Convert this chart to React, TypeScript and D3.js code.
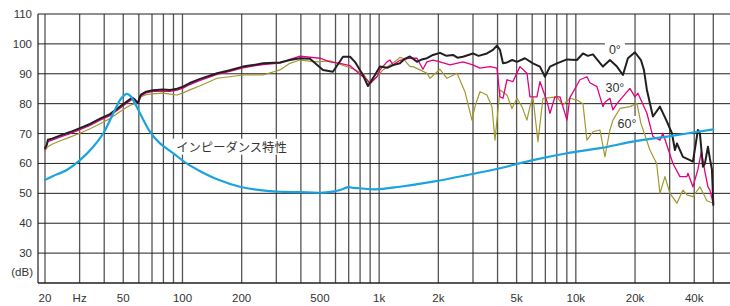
import React from "react";
import * as d3 from "d3";

// ---- Data (frequency in Hz, level in dB) ----
const DB_TICKS = [110, 100, 90, 80, 70, 60, 50, 40, 30];
const DB_UNIT = "(dB)";
const FREQ_LABELS: [number, string][] = [
  [20, "20"], [30, "Hz"], [50, "50"], [100, "100"], [200, "200"], [500, "500"],
  [1000, "1k"], [2000, "2k"], [5000, "5k"], [10000, "10k"], [20000, "20k"], [40000, "40k"],
];
const GRID_FREQS = [
  20, 30, 40, 50, 60, 70, 80, 90,
  100, 200, 300, 400, 500, 600, 700, 800, 900,
  1000, 2000, 3000, 4000, 5000, 6000, 7000, 8000, 9000,
  10000, 20000, 30000, 40000, 50000,
];

const resp0: [number, number][] = [
  [20, 65.2], [20.4, 66.2], [20.7, 67.9], [21.7, 68.3], [23.8, 69.3], [26.8, 70.5], [30.1, 71.8],
  [33.9, 73.2], [38.1, 75.0], [42.8, 76.5], [48.1, 79.0], [52.1, 80.7], [55.4, 82.0], [57, 81.5],
  [59.4, 80.2], [60.8, 82.4], [61.5, 83.0], [65.3, 84.0], [70.8, 84.5], [79.6, 84.7], [86.4, 84.6],
  [93.8, 85.0], [100.6, 85.7], [109, 86.9], [123, 88.3], [150, 90.2], [174, 91.2], [203, 92.4],
  [228, 92.9], [257, 93.5], [313, 93.8], [352, 94.6], [396, 95.2], [445, 95.0], [518, 91.3],
  [582, 90.7], [655, 95.7], [711, 95.7], [753, 94], [827, 89.6], [877, 85.9], [952, 89.6],
  [1010, 92.4], [1100, 92.0], [1176, 92.9], [1276, 93.5], [1350, 95.0], [1434, 95.8], [1557, 94],
  [1650, 94.8], [1750, 95.2], [1878, 96.3], [2038, 97.0], [2200, 96.0], [2374, 96.3], [2500, 95.4],
  [2668, 95.7], [2998, 96.8], [3200, 96.0], [3532, 96.8], [3790, 98], [3972, 99.4], [4114, 98],
  [4262, 93.5], [4466, 93.8], [4750, 94.6], [5020, 94], [5512, 95.2], [6052, 93.5], [6570, 92.4],
  [6966, 89], [7388, 92.4], [8018, 93.5], [9014, 94.8], [10130, 94.6], [10868, 96.8], [11500, 96.0],
  [12218, 96.5], [13734, 92.4], [14908, 94.6], [16182, 92.4], [17360, 89.6], [18404, 95.2],
  [19976, 97.2], [21428, 94.6], [22194, 91.3], [22986, 84.6], [24660, 75.7], [26768, 79],
  [29056, 74], [30808, 70.1], [31910, 64.5], [32668, 66.7], [35042, 62.2], [38032, 61.1],
  [39390, 60.6], [41766, 71.2], [42758, 70], [44288, 58.9], [45340, 60], [46960, 65.6],
  [48074, 61.5], [49210, 58], [50000, 46.1],
];

const resp30: [number, number][] = [
  [20, 64.6], [20.7, 67.3], [21.7, 67.8], [23.8, 68.8], [26.8, 70], [30.1, 71.3], [33.9, 72.7],
  [38.1, 74.5], [42.8, 76.0], [48.1, 78.5], [52.1, 80.2], [55.4, 81.4], [57, 81.2], [59.4, 80.0],
  [61.5, 82.6], [65.3, 83.6], [70.8, 84.1], [79.6, 84.2], [86.4, 84.1], [93.8, 84.5], [100.6, 85.2],
  [109, 86.4], [123, 87.8], [150, 89.8], [174, 90.8], [203, 92], [228, 92.6], [257, 93.1],
  [313, 93.6], [352, 94.8], [396, 95.9], [500, 95.2], [562, 94], [632, 93.5], [711, 92.7],
  [827, 89], [867, 88], [898, 86.8], [975, 89], [1010, 91.3], [1096, 94], [1135, 94.6],
  [1176, 93], [1276, 94.5], [1434, 95.2], [1557, 95.2], [1670, 91.5], [1750, 94], [1878, 94.6],
  [2038, 94], [2292, 93], [2668, 94], [2998, 93], [3254, 91.9], [3660, 92.4], [3972, 91.9],
  [4114, 82.3], [4262, 81.8], [4466, 88], [4790, 87.4], [5198, 92.4], [5642, 90.2], [5844, 82.3],
  [6342, 82.3], [6570, 87.4], [7132, 80.7], [7388, 76.8], [7832, 82.3], [8304, 82.3], [9014, 74.5],
  [9334, 82], [10494, 88], [11388, 89], [11794, 87], [12802, 85.7], [13734, 79], [14060, 80.5],
  [14908, 81.8], [15440, 77.9], [16182, 80], [16760, 81.2], [18838, 85.1], [19976, 82.3],
  [20688, 83.5], [22986, 76.8], [24660, 69], [26768, 67.8], [27724, 70.1], [31172, 60],
  [33836, 55.6], [36718, 55.6], [37150, 56.7], [39390, 52.2], [41766, 58], [43500, 64],
  [45340, 57.2], [46960, 52.2], [48074, 51.1], [50000, 46.5],
];

const resp60: [number, number][] = [
  [20, 64.3], [20.7, 65.6], [21.7, 66.4], [23.8, 67.5], [26.8, 68.8], [30.1, 70.1], [33.9, 71.6],
  [38.1, 73.3], [42.8, 75.0], [48.1, 77.3], [52.1, 78.8], [55.4, 79.7], [59.4, 80.3], [61.5, 82.3],
  [65.3, 83.0], [70.8, 83.3], [79.6, 83.5], [86.4, 83.2], [93.8, 82.9], [100.6, 83.6], [109, 84.6],
  [123, 86], [150, 88.5], [174, 89], [203, 89.6], [257, 89.6], [313, 91.3], [352, 93.5],
  [396, 94.6], [481, 94], [562, 94.3], [711, 92], [827, 90.2], [898, 86.5], [1010, 90.2],
  [1046, 91.3], [1232, 94.6], [1276, 95.5], [1321, 95.2], [1434, 92.4], [1486, 92.4], [1613, 91.3],
  [1750, 90.2], [1813, 88.5], [2038, 91.5], [2212, 88.5], [2292, 89], [2488, 90.2], [2730, 84],
  [2964, 74.5], [3070, 79], [3254, 84], [3532, 82.9], [3746, 79], [3880, 67.8], [4114, 84.6],
  [4466, 82.9], [4734, 78.4], [5020, 81.8], [5322, 79], [5642, 74.5], [5844, 79], [6052, 82.3],
  [6418, 67.3], [6806, 81.8], [7388, 82], [8018, 82.3], [8602, 79.5], [9334, 81.8], [10130, 81.2],
  [10868, 80], [11388, 67.8], [12218, 70.6], [13260, 71.2], [14060, 62.2], [14908, 71.2],
  [15440, 74.5], [16760, 78.4], [18838, 79], [20452, 80.1], [21428, 73.4], [23808, 64.5],
  [25754, 60], [26768, 50], [28384, 55.6], [30094, 50], [32668, 46.7], [35042, 51.1],
  [36718, 49.5], [39390, 48.9], [42758, 52.2], [46412, 47.5], [50000, 46.7],
];

const impedance: [number, number][] = [
  [20, 54.5], [22, 55.8], [25.8, 57.8], [30.1, 61.1], [35.2, 65.6], [39.6, 70.1], [44.5, 76.8],
  [48.1, 81.2], [50.5, 82.8], [52.1, 83.3], [54, 82.8], [56.2, 81.2], [60.8, 76.8], [68.4, 70.6],
  [76.9, 66.7], [89.8, 63.4], [105, 60], [123, 57.4], [150, 54.7], [196, 52.2], [269, 50.8],
  [324, 50.5], [396, 50.4], [500, 50.2], [582, 50.6], [640, 51.2], [694, 52.1], [740, 51.8],
  [799, 51.7], [952, 51.3], [1276, 52.2], [1878, 53.9], [2796, 56.1], [4114, 58.4], [6052, 61.1],
  [9014, 63.4], [13260, 65.1], [19512, 67.3], [29056, 69], [50000, 71.4],
];

const ANGLE_LABELS: [string, number, number][] = [
  ["0°", 15800, 97.9],
  ["30°", 15800, 85.2],
  ["60°", 18200, 73.2],
];
const IMPEDANCE_LABEL: [string, number, number] = ["インピーダンス特性", 93, 65.6];

const W = 730;
const H = 306;
const FONT = "'Liberation Sans', Arial, Helvetica, sans-serif";

export default function App() {
  const x = d3.scaleLog().domain([20, 50000]).range([45, 713.3]);
  const y = d3.scaleLinear().domain([20, 110]).range([283, 14]);
  const left = 38;
  const right = W;

  const line = d3
    .line<[number, number]>()
    .x((d) => x(d[0]))
    .y((d) => y(d[1]));
  const smooth = d3
    .line<[number, number]>()
    .x((d) => x(d[0]))
    .y((d) => y(d[1]))
    .curve(d3.curveCatmullRom.alpha(0.5));

  const series = [
    { data: resp60, color: "#a09a2e", w: 1.2, gen: line },
    { data: resp30, color: "#e4007f", w: 1.3, gen: line },
    { data: resp0, color: "#231f20", w: 2.0, gen: line },
    { data: impedance, color: "#1aa3df", w: 2.2, gen: smooth },
  ];

  return (
    <svg
      width={W}
      height={H}
      style={{ position: "absolute", left: 0, top: 0, background: "#fff" }}
      fontFamily={FONT}
    >
      <rect x={0} y={0} width={W} height={H} fill="#fff" />
      {/* vertical grid */}
      {GRID_FREQS.map((f) => (
        <line key={"v" + f} x1={x(f)} x2={x(f)} y1={y(110)} y2={y(20)} stroke="#555" strokeWidth={1.3} />
      ))}
      {/* horizontal grid */}
      {DB_TICKS.map((v) => (
        <line key={"h" + v} x1={left} x2={right} y1={y(v)} y2={y(v)} stroke="#231f20" strokeWidth={1} />
      ))}
      <line x1={left} x2={right} y1={y(20)} y2={y(20)} stroke="#231f20" strokeWidth={1.5} />
      <line x1={left} x2={left} y1={y(110)} y2={y(20)} stroke="#231f20" strokeWidth={1.2} />

      {/* y labels */}
      {DB_TICKS.map((v) => (
        <text key={"yl" + v} x={32} y={y(v)} textAnchor="end" dominantBaseline="central" fontSize={11.5} fill="#333">
          {v}
        </text>
      ))}
      <text x={33} y={272} textAnchor="end" dominantBaseline="central" fontSize={11.5} fill="#333">
        {DB_UNIT}
      </text>
      {/* x labels */}
      {FREQ_LABELS.map(([f, s]) => (
        <text key={"xl" + f} x={x(f)} y={297.5} textAnchor="middle" dominantBaseline="central" fontSize={11.5} fill="#333">
          {s}
        </text>
      ))}

      {/* labels with white boxes */}
      {ANGLE_LABELS.map(([s, f, v]) => {
        const cx = x(f);
        const cy = y(v);
        const w = s.length * 7 + 6;
        return (
          <g key={s}>
            <rect x={cx - w / 2} y={cy - 8} width={w} height={16} fill="#fff" />
            <text x={cx} y={cy} textAnchor="middle" dominantBaseline="central" fontSize={12.5} fill="#333">
              {s}
            </text>
          </g>
        );
      })}
      <g>
        <rect x={x(IMPEDANCE_LABEL[1]) - 4} y={y(IMPEDANCE_LABEL[2]) - 8} width={120} height={16} fill="#fff" />
        <text
          x={x(IMPEDANCE_LABEL[1])}
          y={y(IMPEDANCE_LABEL[2])}
          dominantBaseline="central"
          fontSize={12.3}
          fill="#333"
          fontFamily="'Noto Sans CJK JP', sans-serif"
        >
          {IMPEDANCE_LABEL[0]}
        </text>
      </g>

      {/* curves */}
      {series.map((s, i) => (
        <path
          key={i}
          d={s.gen(s.data) || ""}
          fill="none"
          stroke={s.color}
          strokeWidth={s.w}
          strokeLinejoin="round"
          strokeLinecap="round"
        />
      ))}
    </svg>
  );
}
